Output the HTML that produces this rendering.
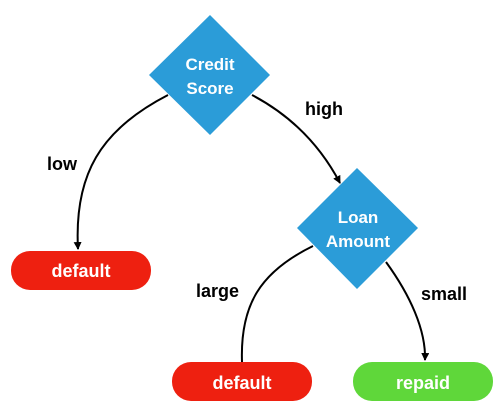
<!DOCTYPE html>
<html><head><style>
body{margin:0;background:#fff}
svg text{font-family:"Liberation Sans",sans-serif;font-weight:bold}
</style></head><body>
<svg width="504" height="412" viewBox="0 0 504 412" xmlns="http://www.w3.org/2000/svg">
<defs><marker id="a" markerWidth="8" markerHeight="8" refX="7" refY="4" orient="auto" markerUnits="userSpaceOnUse"><path d="M0,0 L8,4 L0,8 Z" fill="#000"/></marker></defs>
<g fill="none" stroke="#000" stroke-width="2">
<path d="M168,95 C100,130 74,175 78,249" marker-end="url(#a)"/>
<path d="M252,95 C290,115 320,145 340,183" marker-end="url(#a)"/>
<path d="M313,246 C260,272 240,305 242,362"/>
<path d="M386,262 C410,295 426,330 425,360" marker-end="url(#a)"/>
</g>
<polygon points="210,15 270,75 210,135 149,75" fill="#2b9cd8"/>
<polygon points="357,168 418,228 357,289 297,228" fill="#2b9cd8"/>
<rect x="11" y="251" width="140" height="39" rx="19" fill="#ee2010"/>
<rect x="172" y="362" width="140" height="39" rx="19" fill="#ee2010"/>
<rect x="353" y="362" width="140" height="39" rx="19" fill="#5fd73a"/>
<g fill="#fff" font-size="17" text-anchor="middle">
<text x="210" y="70">Credit</text><text x="210" y="94">Score</text>
<text x="358" y="223">Loan</text><text x="358" y="247">Amount</text>
<text x="81" y="277" font-size="18">default</text>
<text x="242" y="389" font-size="18">default</text>
<text x="423" y="389" font-size="18">repaid</text>
</g>
<g fill="#000" font-size="18">
<text x="47" y="170">low</text>
<text x="305" y="115">high</text>
<text x="196" y="297">large</text>
<text x="421" y="300">small</text>
</g>
</svg>
</body></html>
